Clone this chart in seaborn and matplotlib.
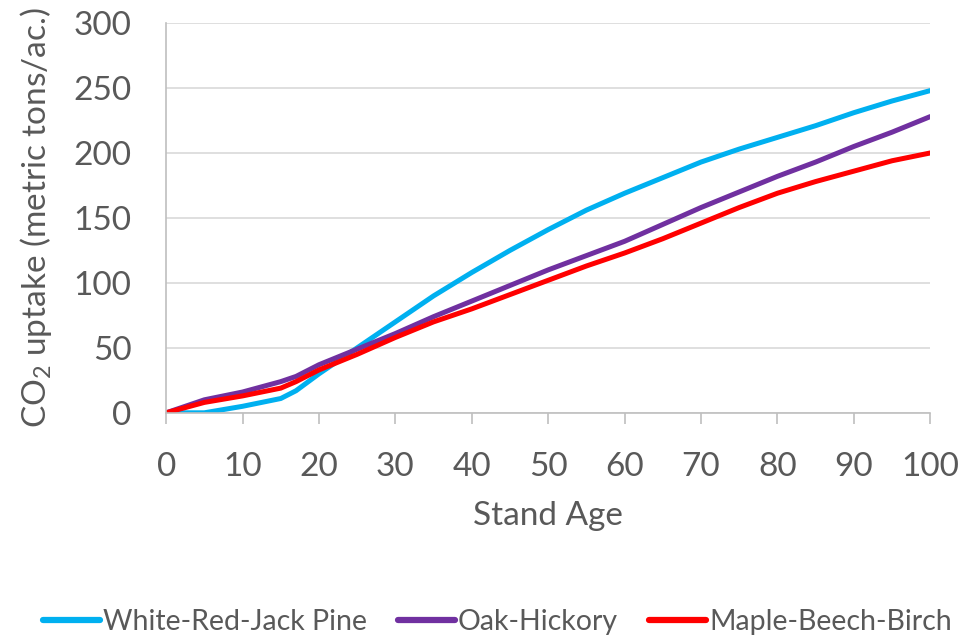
import matplotlib
matplotlib.use("Agg")
import matplotlib.pyplot as plt
import pandas as pd
import seaborn as sns

# Values (every 5 years of stand age)
stand_age = [0, 5, 10, 15, 17, 20, 25, 30, 35, 40, 45, 50, 55, 60, 65, 70, 75, 80, 85, 90, 95, 100]
white_red_jack_pine = [0, 0, 5, 11, 17, 30, 50, 70, 90, 108, 125, 141, 156, 169, 181, 193, 203, 212, 221, 231, 240, 248]
oak_hickory = [0, 10, 16, 24, 28, 37, 49, 61, 74, 86, 98, 110, 121, 132, 145, 158, 170, 182, 193, 205, 216, 228]
maple_beech_birch = [0, 8, 13, 19, 24, 33, 45, 58, 70, 80, 91, 102, 113, 123, 134, 146, 158, 169, 178, 186, 194, 200]

series_names = ["White-Red-Jack Pine", "Oak-Hickory", "Maple-Beech-Birch"]
colors = ["#00B0F0", "#7030A0", "#FF0000"]

df = pd.DataFrame({
    "Stand Age": stand_age * 3,
    "uptake": white_red_jack_pine + oak_hickory + maple_beech_birch,
    "type": sum([[n] * len(stand_age) for n in series_names], []),
})

sns.set_theme(style="white")
plt.rcParams["font.family"] = ["Lato", "DejaVu Sans"]
plt.rcParams["mathtext.fontset"] = "custom"
plt.rcParams["mathtext.rm"] = "Lato"
plt.rcParams["mathtext.it"] = "Lato:italic"

text_color = "#595959"

fig = plt.figure(figsize=(9.66, 6.4), dpi=100)
ax = fig.add_axes([0.172, 0.355, 0.791, 0.609])

sns.lineplot(data=df, x="Stand Age", y="uptake", hue="type",
             palette=colors, linewidth=3.6, ax=ax)

ax.set_xlim(0, 100)
ax.set_ylim(0, 300)
ax.set_xticks(range(0, 101, 10))
ax.set_yticks(range(0, 301, 50))
ax.grid(axis="y", color="#D9D9D9", linewidth=1.2)
ax.set_axisbelow(True)

for side in ["top", "right"]:
    ax.spines[side].set_visible(False)
for side in ["left", "bottom"]:
    ax.spines[side].set_color("#BFBFBF")
    ax.spines[side].set_linewidth(1.2)

ax.tick_params(axis="x", bottom=True, length=8, width=1.2, color="#BFBFBF",
               labelsize=24, labelcolor=text_color, pad=20)
ax.tick_params(axis="y", left=False, labelsize=24, labelcolor=text_color, pad=19)

ax.set_xlabel("Stand Age", fontsize=24, color=text_color, labelpad=14)
ax.set_ylabel("CO$_2$ uptake (metric tons/ac.)", fontsize=24, color=text_color, labelpad=14)

handles, labels = ax.get_legend_handles_labels()
leg = ax.legend(handles, labels, loc="center", bbox_to_anchor=(0.515, 0.028),
                bbox_transform=fig.transFigure, frameon=False, ncol=3, fontsize=20.5,
                handlelength=2.0, handletextpad=0.1, columnspacing=1.1,
                labelcolor=text_color)
for line in leg.get_lines():
    line.set_linewidth(4.5)

fig.savefig("out.png", dpi=100)
